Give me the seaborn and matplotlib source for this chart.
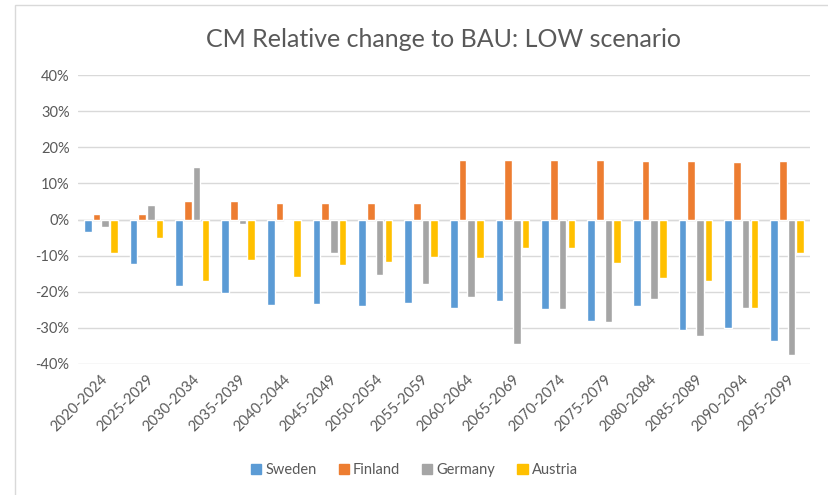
import matplotlib
matplotlib.use("Agg")
import matplotlib.pyplot as plt
import matplotlib.patches as mpatches
import pandas as pd
import seaborn as sns

periods = ["2020-2024", "2025-2029", "2030-2034", "2035-2039", "2040-2044",
           "2045-2049", "2050-2054", "2055-2059", "2060-2064", "2065-2069",
           "2070-2074", "2075-2079", "2080-2084", "2085-2089", "2090-2094",
           "2095-2099"]
sweden = [-3.4, -12.4, -18.4, -20.4, -23.6, -23.5, -23.9, -23.1,
          -24.6, -22.7, -24.7, -28.2, -24.1, -30.7, -30.2, -33.7]
finland = [1.6, 1.6, 5.2, 5.2, 4.6, 4.6, 4.6, 4.6,
           16.6, 16.6, 16.6, 16.6, 16.1, 16.1, 16.0, 16.1]
germany = [-2.0, 3.9, 14.5, -1.1, -0.4, -9.4, -15.5, -18.0,
           -21.6, -34.5, -24.9, -28.3, -21.9, -32.4, -24.4, -37.6]
austria = [-9.3, -5.0, -17.0, -11.2, -16.0, -12.6, -11.9, -10.4,
           -10.7, -7.9, -8.0, -12.1, -16.2, -17.1, -24.5, -9.2]
countries = ["Sweden", "Finland", "Germany", "Austria"]
colors = ["#5B9BD5", "#ED7D31", "#A5A5A5", "#FFC000"]
yticks = [-40, -30, -20, -10, 0, 10, 20, 30, 40]

df = pd.DataFrame({"period": periods, "Sweden": sweden, "Finland": finland,
                   "Germany": germany, "Austria": austria})
long = df.melt(id_vars="period", var_name="country", value_name="change")

sns.set_style("white")
plt.rcParams["font.family"] = ["Lato", "DejaVu Sans"]
text_color = "#595959"

fig = plt.figure(figsize=(8.29, 4.95), dpi=100)
ax = fig.add_axes([0.094, 0.265, 0.883, 0.583])

sns.barplot(data=long, x="period", y="change", hue="country",
            hue_order=countries, palette=colors, width=0.76, gap=0.12,
            saturation=1, ax=ax, zorder=3)

ax.set_ylim(-40, 40)
ax.set_yticks(yticks)
ax.set_yticklabels([f"{t}%" for t in yticks], color=text_color, fontsize=10.5)
ax.set_xlim(-0.5, len(periods) - 0.5)
ax.set_xticks(range(len(periods)))
ax.set_xticklabels(periods, rotation=45, ha="right", rotation_mode="anchor",
                   color=text_color, fontsize=10.5)
ax.tick_params(axis="both", length=0, pad=6)
ax.grid(axis="y", color="#D9D9D9", linewidth=1, zorder=0)
for s in ax.spines.values():
    s.set_visible(False)
ax.axhline(0, color="#D9D9D9", linewidth=1, zorder=1)
ax.set_xlabel("")
ax.set_ylabel("")

ax.set_title("CM Relative change to BAU: LOW scenario", fontsize=18,
             color=text_color, pad=20)

handles = [mpatches.Patch(color=c, label=n) for c, n in zip(colors, countries)]
ax.legend(handles=handles, loc="center", bbox_to_anchor=(0.5, 0.05),
          bbox_transform=fig.transFigure, ncol=4, frameon=False,
          fontsize=10.5, handlelength=0.7, handleheight=0.7,
          handletextpad=0.3, columnspacing=1.5, labelcolor=text_color)

# outer chart frame
fig.patches.append(mpatches.Rectangle((15 / 829, -0.1), 1.2, 1.1 - 5 / 495,
                                      transform=fig.transFigure, fill=False,
                                      edgecolor="#D9D9D9", linewidth=1))

fig.savefig("out.png", dpi=100)
